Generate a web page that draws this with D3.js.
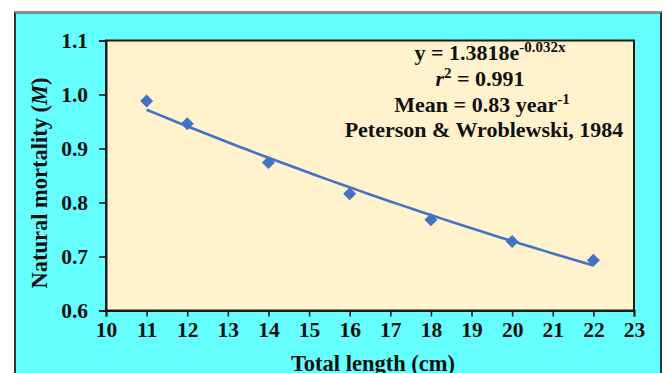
<!DOCTYPE html>
<html>
<head>
<meta charset="utf-8">
<script src="https://cdn.jsdelivr.net/npm/d3@7"></script>
<style>
  html, body { margin: 0; padding: 0; background: #ffffff; }
  svg { display: block; font-family: "Liberation Serif", "Times New Roman", serif; font-weight: bold; }
</style>
</head>
<body>
<svg id="chart" width="667" height="373"></svg>
<script>
// Natural mortality (M) by total length
const lengths   = [11, 12, 14, 16, 18, 20, 22];
const mortality = [0.988, 0.946, 0.874, 0.816, 0.768, 0.728, 0.693];

// Exponential trend: y = a * e^(b x)
const trendCoef = [1.3818, -0.032];
const trendSpan = [11, 22];

const xTicks = [10, 11, 12, 13, 14, 15, 16, 17, 18, 19, 20, 21, 22, 23];
const yTicks = [0.6, 0.7, 0.8, 0.9, 1.0, 1.1];

const plot = { left: 106, right: 634, top: 40.5, bottom: 310.5 };
const textColor = "#111";

const svg = d3.select("#chart");

// outer panel
svg.append("rect")
  .attr("x", 15).attr("y", 12.5)
  .attr("width", 646).attr("height", 380)
  .attr("fill", "#66FFFF")
  .attr("stroke", "#333").attr("stroke-width", 2);
svg.append("line")
  .attr("x1", 15).attr("x2", 661).attr("y1", 12.5).attr("y2", 12.5)
  .attr("stroke", "#8a8a8a").attr("stroke-width", 2);

const x = d3.scaleLinear().domain([10, 23]).range([plot.left, plot.right]);
const y = d3.scaleLinear().domain([0.6, 1.1]).range([plot.bottom, plot.top]);

// plot area
svg.append("rect")
  .attr("x", plot.left).attr("y", plot.top)
  .attr("width", plot.right - plot.left).attr("height", plot.bottom - plot.top)
  .attr("fill", "#FFF2CC")
  .attr("stroke", "#1a1a1a").attr("stroke-width", 2);

// axes
const xAxis = d3.axisBottom(x).tickValues(xTicks).tickSize(6).tickPadding(5)
  .tickFormat(d3.format("d"));
const yAxis = d3.axisLeft(y).tickValues(yTicks).tickSize(7).tickPadding(11)
  .tickFormat(d3.format(".1f"));

const gx = svg.append("g").attr("transform", `translate(0,${plot.bottom})`).call(xAxis);
const gy = svg.append("g").attr("transform", `translate(${plot.left},0)`).call(yAxis);

[gx, gy].forEach(g => {
  g.select(".domain").attr("stroke", "#1a1a1a").attr("stroke-width", 2);
  g.selectAll(".tick line").attr("stroke", "#1a1a1a").attr("stroke-width", 1.6);
  g.selectAll(".tick text")
    .attr("fill", textColor)
    .style("font-family", "'Liberation Serif', 'Times New Roman', serif")
    .style("font-weight", "bold")
    .style("font-size", "21.5px");
});

// trend curve
const [a, b] = trendCoef;
const trendPts = d3.range(trendSpan[0], trendSpan[1] + 0.001, 0.25)
  .map(v => [v, a * Math.exp(b * v)]);
svg.append("path")
  .datum(trendPts)
  .attr("fill", "none")
  .attr("stroke", "#4472C4")
  .attr("stroke-width", 2.6)
  .attr("d", d3.line().x(d => x(d[0])).y(d => y(d[1])));

// diamond markers
const r = 6.5;
svg.append("g").selectAll("path")
  .data(lengths.map((l, i) => [l, mortality[i]]))
  .join("path")
  .attr("transform", d => `translate(${x(d[0])},${y(d[1])})`)
  .attr("d", `M0,${-r}L${r},0L0,${r}L${-r},0Z`)
  .attr("fill", "#4472C4");

// axis titles
svg.append("text")
  .attr("x", 373).attr("y", 371)
  .attr("text-anchor", "middle")
  .attr("font-size", 22.5).attr("fill", textColor)
  .text("Total length (cm)");

const yt = svg.append("text")
  .attr("transform", "translate(47,183) rotate(-90)")
  .attr("text-anchor", "middle")
  .attr("font-size", 22.5).attr("fill", textColor);
yt.append("tspan").text("Natural mortality (");
yt.append("tspan").attr("font-style", "italic").text("M");
yt.append("tspan").text(")");

// equation block
const cx = 484;
const fs = 22, sup = 15;
const t1 = svg.append("text").attr("x", cx + 6).attr("y", 60)
  .attr("text-anchor", "middle").attr("font-size", fs).attr("fill", textColor);
t1.append("tspan").text("y = 1.3818e");
t1.append("tspan").attr("dy", -8).attr("font-size", sup).text("-0.032x");

const t2 = svg.append("text").attr("x", cx - 4).attr("y", 86)
  .attr("text-anchor", "middle").attr("font-size", fs).attr("fill", textColor);
t2.append("tspan").attr("font-style", "italic").text("r");
t2.append("tspan").attr("dy", -8).attr("font-size", sup).text("2");
t2.append("tspan").attr("dy", 8).text(" = 0.991");

const t3 = svg.append("text").attr("x", cx - 2).attr("y", 112)
  .attr("text-anchor", "middle").attr("font-size", fs).attr("fill", textColor);
t3.append("tspan").text("Mean = 0.83 year");
t3.append("tspan").attr("dy", -8).attr("font-size", sup).text("-1");

svg.append("text").attr("x", cx).attr("y", 137)
  .attr("text-anchor", "middle").attr("font-size", fs).attr("fill", textColor)
  .text("Peterson & Wroblewski, 1984");
</script>
</body>
</html>
